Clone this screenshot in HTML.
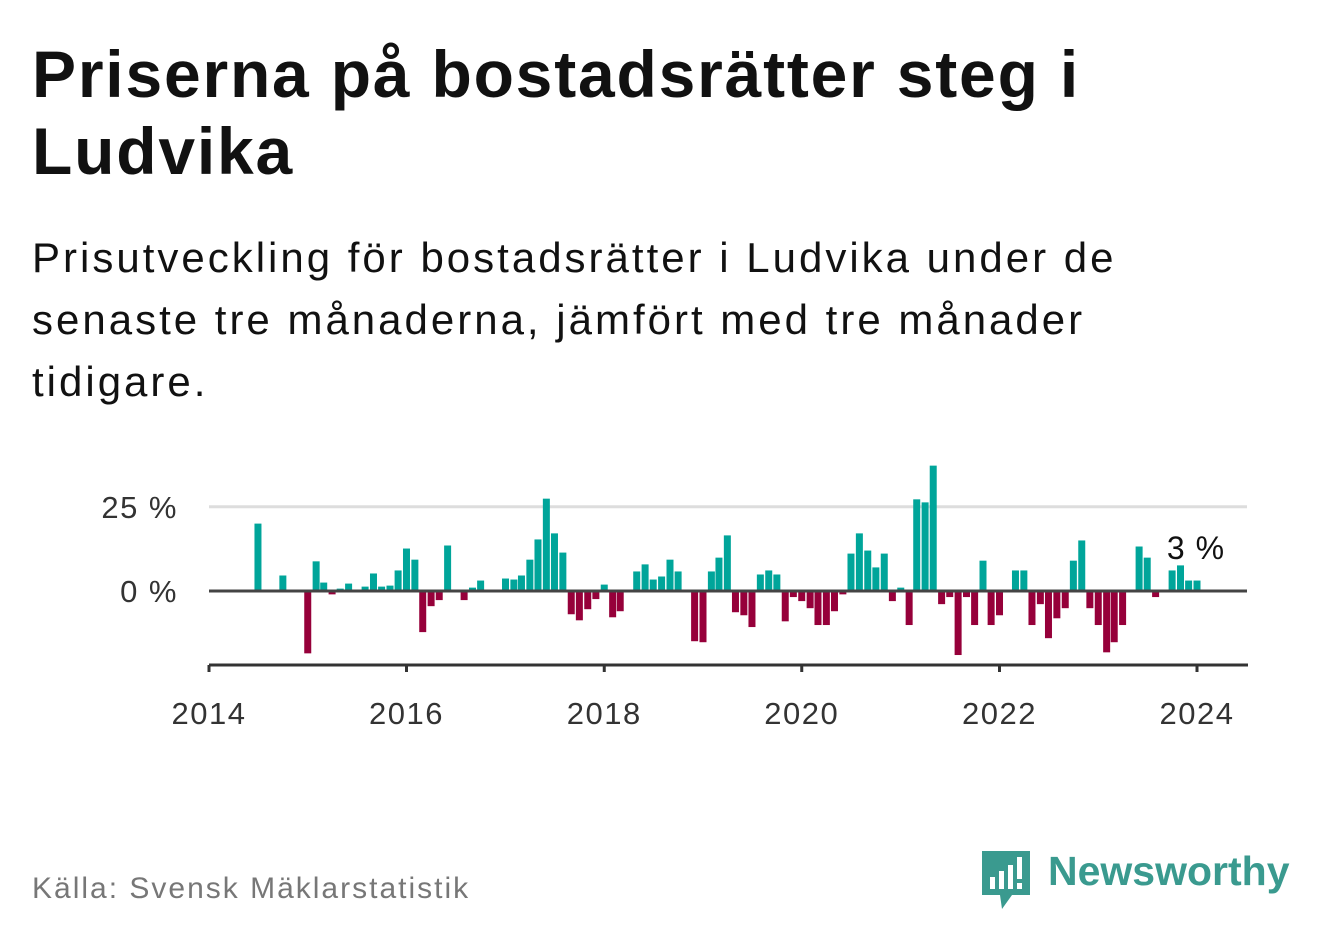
<!DOCTYPE html>
<html><head><meta charset="utf-8">
<style>
body{margin:0;width:1322px;height:939px;background:#fff;font-family:"Liberation Sans",sans-serif;overflow:hidden;position:relative}
h1{position:absolute;left:32px;top:36px;margin:0;font-size:66px;line-height:77px;font-weight:bold;color:#111;width:1290px;white-space:nowrap;letter-spacing:1.8px}
.sub{position:absolute;left:32px;top:227px;font-size:42px;line-height:62px;color:#111;width:1290px;white-space:nowrap;letter-spacing:3px}
.src{position:absolute;left:32px;top:872px;font-size:30px;color:#777;letter-spacing:2px}
.logo{position:absolute;left:1048px;top:848px;font-size:41px;font-weight:bold;color:#3a9a8f}
</style></head><body>
<h1>Priserna på bostadsrätter steg i<br>Ludvika</h1>
<div class="sub">Prisutveckling för bostadsrätter i Ludvika under de<br>senaste tre månaderna, jämfört med tre månader<br>tidigare.</div>
<svg id="chart" width="1322" height="939" style="position:absolute;left:0;top:0" font-family="Liberation Sans, sans-serif"></svg>
<div class="src">Källa: Svensk Mäklarstatistik</div>
<svg style="position:absolute;left:982px;top:851px" width="48" height="58" viewBox="0 0 48 58">
<path d="M0 0H48V44H30L20 58L18 44H0Z" fill="#3a9a8f"/>
<rect x="8" y="26" width="5" height="12" fill="#fff"/><rect x="17" y="20" width="5" height="18" fill="#fff"/><rect x="26" y="14" width="5" height="24" fill="#fff"/><rect x="35" y="6" width="5" height="22" fill="#fff"/><rect x="35" y="32" width="5" height="6" fill="#fff"/>
</svg>
<div class="logo">Newsworthy</div>
<script>
const months=["2014-07","2014-10","2015-01","2015-02","2015-03","2015-04","2015-05","2015-06","2015-08","2015-09","2015-10","2015-11","2015-12","2016-01","2016-02","2016-03","2016-04","2016-05","2016-06","2016-08","2016-09","2016-10","2017-01","2017-02","2017-03","2017-04","2017-05","2017-06","2017-07","2017-08","2017-09","2017-10","2017-11","2017-12","2018-01","2018-02","2018-03","2018-05","2018-06","2018-07","2018-08","2018-09","2018-10","2018-12","2019-01","2019-02","2019-03","2019-04","2019-05","2019-06","2019-07","2019-08","2019-09","2019-10","2019-11","2019-12","2020-01","2020-02","2020-03","2020-04","2020-05","2020-06","2020-07","2020-08","2020-09","2020-10","2020-11","2020-12","2021-01","2021-02","2021-03","2021-04","2021-05","2021-06","2021-07","2021-08","2021-09","2021-10","2021-11","2021-12","2022-01","2022-03","2022-04","2022-05","2022-06","2022-07","2022-08","2022-09","2022-10","2022-11","2022-12","2023-01","2023-02","2023-03","2023-04","2023-06","2023-07","2023-08","2023-10","2023-11","2023-12","2024-01"];
const values=[20,4.6,-18.5,8.8,2.5,-1,0.7,2.2,1.3,5.2,1.3,1.6,6.1,12.6,9.3,-12.2,-4.5,-2.7,13.5,-2.7,1.0,3.1,3.7,3.4,4.6,9.3,15.3,27.4,17.1,11.4,-6.9,-8.7,-5.4,-2.4,1.9,-7.8,-6.0,5.8,7.9,3.4,4.3,9.3,5.8,-14.9,-15.2,5.8,9.9,16.5,-6.3,-7.2,-10.7,4.9,6.1,4.9,-9.0,-1.8,-3.0,-5.1,-10.1,-10.1,-6.0,-1.0,11.1,17.1,12.0,7.0,11.1,-3.0,1.0,-10.1,27.2,26.3,37.2,-3.9,-1.8,-19.0,-1.8,-10.1,9.0,-10.1,-7.2,6.1,6.1,-10.1,-3.9,-14.0,-8.1,-5.1,9.0,15.0,-5.1,-10.1,-18.2,-15.2,-10.1,13.2,9.9,-1.8,6.1,7.6,3.1,3.1];
const yTicks=[0,25];
const xTicks=[2014,2016,2018,2020,2022,2024];
const NS="http://www.w3.org/2000/svg";
const svg=document.getElementById('chart');
const t0=Date.UTC(2014,0,1),t1=Date.UTC(2024,0,1);
function x(d){return 209+(d-t0)/(t1-t0)*988;}
function y(v){return 591-v*3.37;}
function el(tag,a){const e=document.createElementNS(NS,tag);for(const k in a)e.setAttribute(k,a[k]);svg.appendChild(e);return e;}
yTicks.forEach(v=>{
  if(v!==0){const g=el('line',{x1:209,x2:1247,y1:y(v),y2:y(v),stroke:'#ddd','stroke-width':3});
  
  }
  const t=el('text',{x:178,y:y(v)+11,'text-anchor':'end','font-size':31,fill:'#333','letter-spacing':1.5});
  t.textContent=v+' %';
  
  
});
months.forEach((m,i)=>{
  const [yy,mm]=m.split('-').map(Number);
  const cx=x(Date.UTC(yy,mm-1,1));const v=values[i];
  const r=el('rect',{x:cx-3.5,width:7,y:v>=0?y(v):y(0),height:Math.abs(y(v)-y(0)),fill:v>=0?'#00a59a':'#96003a'});
  
  
});
const z=el('line',{x1:209,x2:1247,y1:y(0),y2:y(0),stroke:'#444','stroke-width':3});


const ax=el('line',{x1:209,x2:1248,y1:665,y2:665,stroke:'#333','stroke-width':3});


xTicks.forEach(yr=>{
  const px=x(Date.UTC(yr,0,1));
  const tk=el('line',{x1:px,x2:px,y1:665,y2:672,stroke:'#333','stroke-width':3});
  
  
  const t=el('text',{x:px,y:724,'text-anchor':'middle','font-size':31,fill:'#333','letter-spacing':1.5});
  t.textContent=yr;
  
  
});
const lastV=values[values.length-1];
const lbl=el('text',{x:1196,y:559,'text-anchor':'middle','font-size':32,fill:'#111','letter-spacing':1});
lbl.textContent=Math.round(lastV)+' %';


</script>
</body></html>
